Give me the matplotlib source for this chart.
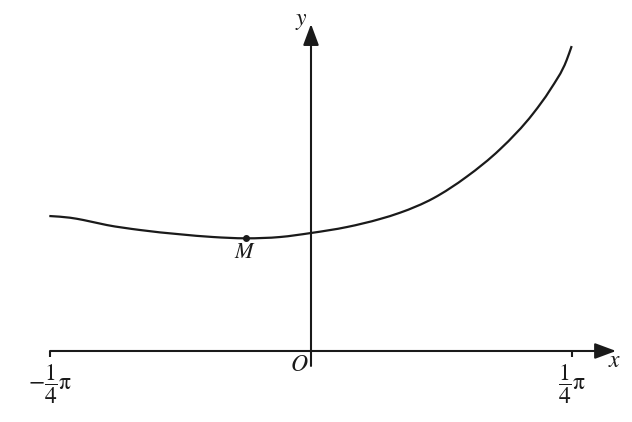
import matplotlib
matplotlib.use('Agg')
import matplotlib.pyplot as plt
from matplotlib.path import Path
from matplotlib.patches import PathPatch
import numpy as np

plt.rcParams['mathtext.fontset'] = 'stix'
plt.rcParams['font.family'] = 'STIXGeneral'

# curve (x in radians)
curve_x = [-0.7875, -0.7252, -0.6851, -0.6147, -0.5145, -0.3942, -0.2949, -0.1956, -0.0933,
           0.0000, 0.1083, 0.2076, 0.2678, 0.3680, 0.4685, 0.5687, 0.6689, 0.7192, 0.7694, 0.7845]
curve_y = [0.4062, 0.4011, 0.3942, 0.3791, 0.3641, 0.3512, 0.3430, 0.3391, 0.3430,
           0.3551, 0.3731, 0.3972, 0.4161, 0.4595, 0.5245, 0.6069, 0.7152, 0.7853, 0.8756, 0.9177]
m_x, m_y = -0.1956, 0.3391
tick_x = [-np.pi / 4, np.pi / 4]
tick_labels = [r'$-\dfrac{1}{4}\mathrm{\pi}$', r'$\dfrac{1}{4}\mathrm{\pi}$']

col = '#1a1a1a'
fig = plt.figure(figsize=(6.32, 4.22), dpi=100)
ax = fig.add_axes([0, 0, 1, 1])
ax.set_xlim(-0.9359, 0.9660)
ax.set_ylim(-0.2137, 1.0563)
ax.axis('off')

arrow = dict(arrowstyle='-|>,head_length=0.43,head_width=0.16', mutation_scale=30,
             color=col, lw=1.5, shrinkA=0, shrinkB=0)
ax.annotate('', xy=(0.918, 0), xytext=(-np.pi / 4, 0), arrowprops=arrow)
ax.annotate('', xy=(0, 0.984), xytext=(0, -0.045), arrowprops=arrow)

for tx in tick_x:
    ax.plot([tx, tx], [0, -0.018], color=col, lw=1.5, solid_capstyle='butt')

# smooth path through the read points (cubic Hermite as Bezier segments)
xs = np.array(curve_x)
ys = np.array(curve_y)
slopes = np.gradient(ys, xs)
verts = [(xs[0], ys[0])]
codes = [Path.MOVETO]
for i in range(len(xs) - 1):
    dx = (xs[i + 1] - xs[i]) / 3
    verts += [(xs[i] + dx, ys[i] + dx * slopes[i]),
              (xs[i + 1] - dx, ys[i + 1] - dx * slopes[i + 1]),
              (xs[i + 1], ys[i + 1])]
    codes += [Path.CURVE4] * 3
ax.add_patch(PathPatch(Path(verts, codes), fill=False, edgecolor=col, lw=1.6))
ax.plot([m_x], [m_y], 'o', color=col, ms=4)

ax.text(tick_x[0], -0.099, tick_labels[0], fontsize=17, ha='center', va='center', color=col)
ax.text(tick_x[1], -0.099, tick_labels[1], fontsize=17, ha='center', va='center', color=col)
ax.text(-0.036, -0.042, r'$O$', fontsize=17, ha='center', va='center', color=col)
ax.text(0.915, -0.031, r'$x$', fontsize=17, ha='center', va='center', color=col)
ax.text(-0.030, 0.993, r'$y$', fontsize=17, ha='center', va='center', color=col)
ax.text(-0.199, 0.294, r'$M$', fontsize=16, ha='center', va='center', color=col)

fig.savefig('out.png', dpi=100)
